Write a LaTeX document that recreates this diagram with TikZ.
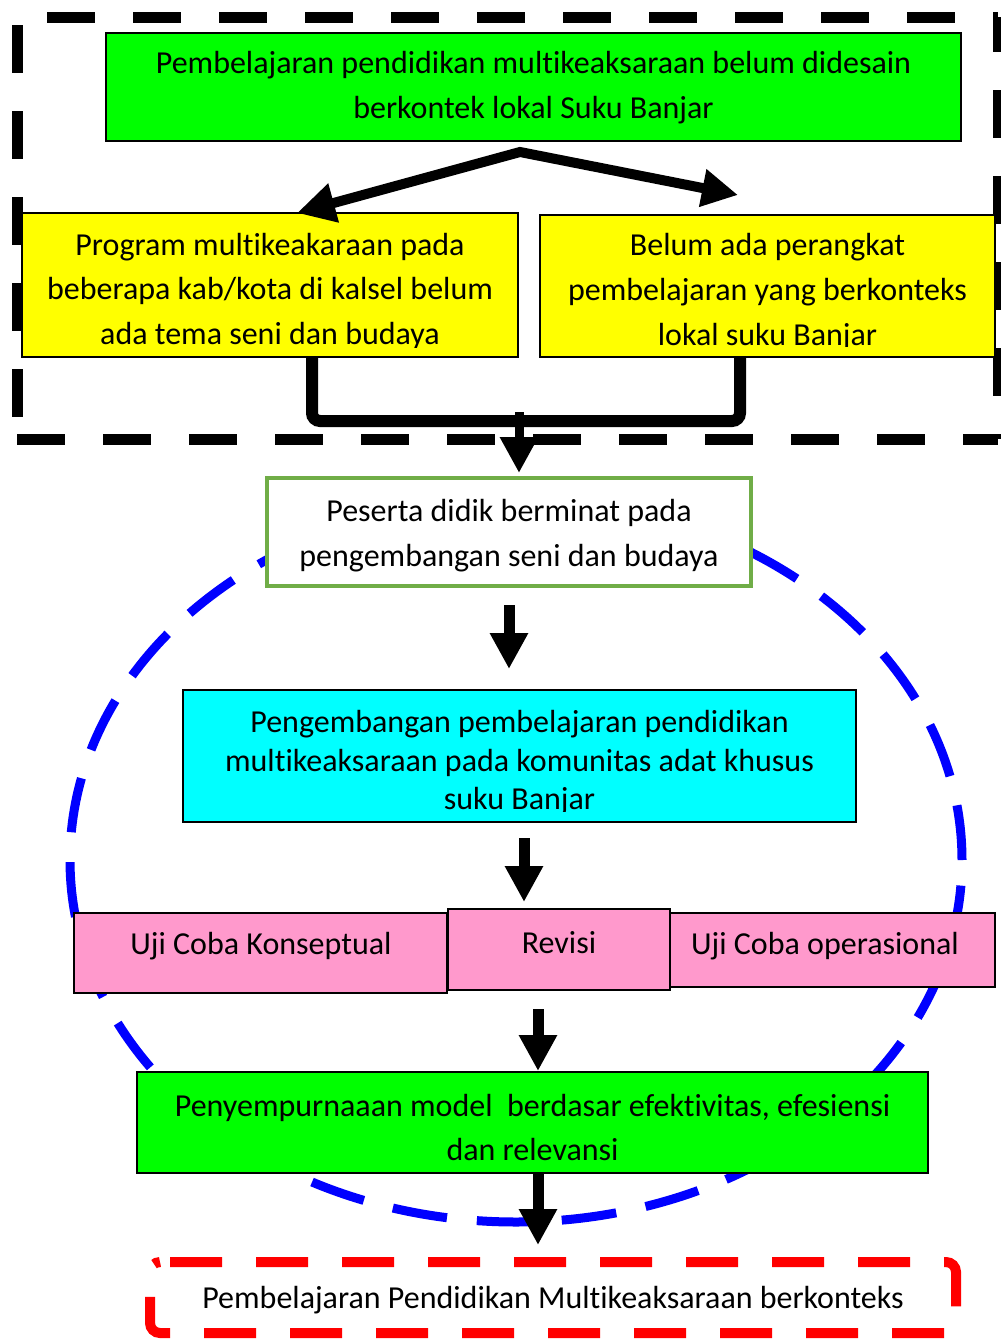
\documentclass[tikz,border=0pt]{standalone}
\usepackage{fontspec}
\setmainfont{Carlito}[Ligatures=NoCommon]
\usetikzlibrary{arrows.meta}
\definecolor{limeg}{HTML}{00FF00}
\definecolor{yel}{HTML}{FFFF00}
\definecolor{cyanb}{HTML}{00FFFF}
\definecolor{pinkb}{HTML}{FF99CC}
\definecolor{olivegreen}{HTML}{70AD47}
\definecolor{blueb}{HTML}{0000FF}
\definecolor{redb}{HTML}{FF0000}
\begin{document}
\begin{tikzpicture}[x=1pt,y=-1pt,
  box/.style={draw=black, line width=2pt, inner sep=0pt},
  txt/.style={align=center, inner sep=0pt, font=\fontsize{32}{45}\selectfont},
  txtc/.style={align=center, inner sep=0pt, font=\fontsize{32}{38.5}\selectfont},
  darr/.style={line width=11pt, -{Triangle[length=36pt,width=36pt]}},
  forkarr/.style={line width=10pt, line join=miter,
    {Triangle[length=38pt,width=38pt]}-{Triangle[length=36pt,width=36pt]}},
  bracket/.style={line width=12pt, rounded corners=8pt},
  blackdash/.style={line width=11pt, dash pattern=on 48pt off 38pt},
  reddash/.style={draw=redb, line width=10pt, dash pattern=on 52pt off 34pt, dash phase=76pt, rounded corners=10pt},
  bluedash/.style={draw=blueb, line width=9pt, dash pattern=on 55pt off 30pt}
]
\useasboundingbox (0,0) rectangle (1001,1339);
\fill[white] (0,0) rectangle (1001,1339);

% blue dashed ellipse (behind)
\draw[bluedash] (516,860) ellipse [x radius=446pt, y radius=362pt];

% black dashed frame
\coordinate (ftl) at (17,17);
\coordinate (ftr) at (998,17);
\coordinate (fbr) at (998,439);
\coordinate (fbl) at (17,439);
\draw[blackdash, dash phase=56pt] (ftl) -- (ftr);
\draw[blackdash, dash phase=13pt] (ftr) -- (fbr);
\draw[blackdash, dash phase=0pt] (fbl) -- (fbr);
\draw[blackdash, dash phase=78pt] (ftl) -- (fbl);

% red dashed frame
\draw[reddash] (150,1262) -- (956,1262) -- (956,1333) -- (150,1333) -- cycle;

% boxes
\node[box, fill=limeg, minimum width=855pt, minimum height=108pt] (top) at (533.5,87) {};
\node[txt] (topt) at (533.5,88) {Pembelajaran pendidikan multikeaksaraan belum didesain\\berkontek lokal Suku Banjar};

\node[box, fill=yel, minimum width=496pt, minimum height=144pt] (yl) at (270,285) {};
\begin{scope}
\clip (yl.north west) rectangle ([yshift=11pt]yl.south east);
\node[txt, font=\fontsize{32}{44.5}\selectfont] (ylt) at (270,291) {Program multikeakaraan pada\\beberapa kab/kota di kalsel belum\\ada tema seni dan budaya};
\end{scope}

\node[box, fill=yel, minimum width=455pt, minimum height=142pt] (yr) at (767.5,286) {};
\begin{scope}
\clip (yr.north west) rectangle ([yshift=12pt]yr.south east);
\node[txt] (yrt) at (767.5,292.5) {Belum ada perangkat\\pembelajaran yang berkonteks\\lokal suku Banjar};
\end{scope}

\node[draw=olivegreen, line width=4pt, fill=white, inner sep=0pt, minimum width=484pt, minimum height=108pt] (wb) at (509,532) {};
\node[txt] (wbt) at (509,536) {Peserta didik berminat pada\\pengembangan seni dan budaya};

\node[box, fill=cyanb, minimum width=673pt, minimum height=132pt] (cy) at (519.5,756) {};
\begin{scope}
\clip (cy.north west) rectangle ([yshift=12pt]cy.south east);
\node[txtc] (cyt) at (519.5,763) {Pengembangan pembelajaran pendidikan\\multikeaksaraan pada komunitas adat khusus\\suku Banjar};
\end{scope}

\node[box, fill=pinkb, minimum width=373pt, minimum height=80pt] (pk1) at (260.5,953) {};
\node[box, fill=pinkb, minimum width=325pt, minimum height=74pt] (pk3) at (832.5,950) {};
\node[box, fill=pinkb, minimum width=222pt, minimum height=81pt] (pk2) at (559,949.5) {};
\node[txt] (pk1t) at (261,946.5) {Uji Coba Konseptual};
\node[txt] (pk2t) at (559,942.5) {Revisi};
\node[txt] (pk3t) at (825,946.5) {Uji Coba operasional};

\node[box, fill=limeg, minimum width=791pt, minimum height=101pt] (g2) at (532.5,1122.5) {};
\node[txt, font=\fontsize{32}{44}\selectfont] (g2t) at (532.5,1127.5) {Penyempurnaaan model~ berdasar efektivitas, efesiensi\\dan relevansi};

\node[txt] (rt) at (553,1300.5) {Pembelajaran Pendidikan Multikeaksaraan berkonteks};

% connectors
\coordinate (apex) at (520,152);
\coordinate (lt) at (297,213);
\coordinate (rtip) at (738,195);
\draw[forkarr] (lt) -- (apex) -- (rtip);

\coordinate (bl) at (312,421);
\coordinate (br) at (740,421);
\draw[bracket] (yl.south -| bl) -- (bl) -- (br) -- (yr.south -| br);
\coordinate (bm) at (519,412);
\draw[line width=9pt, -{Triangle[length=36pt,width=36pt]}] (bm) -- ([yshift=3pt]wb.north -| bm);

\coordinate (a1s) at (509,605);
\coordinate (a1e) at (509,669);
\draw[darr] (a1s) -- (a1e);

\coordinate (a2s) at (524,838);
\draw[darr] (a2s) -- ([yshift=6pt]pk2.north -| a2s);

\coordinate (a3s) at (538,1009);
\draw[darr] (a3s) -- (g2.north -| a3s);

\coordinate (a4e) at (538,1245);
\draw[darr] (g2.south -| a4e) -- (a4e);
\end{tikzpicture}
\end{document}
